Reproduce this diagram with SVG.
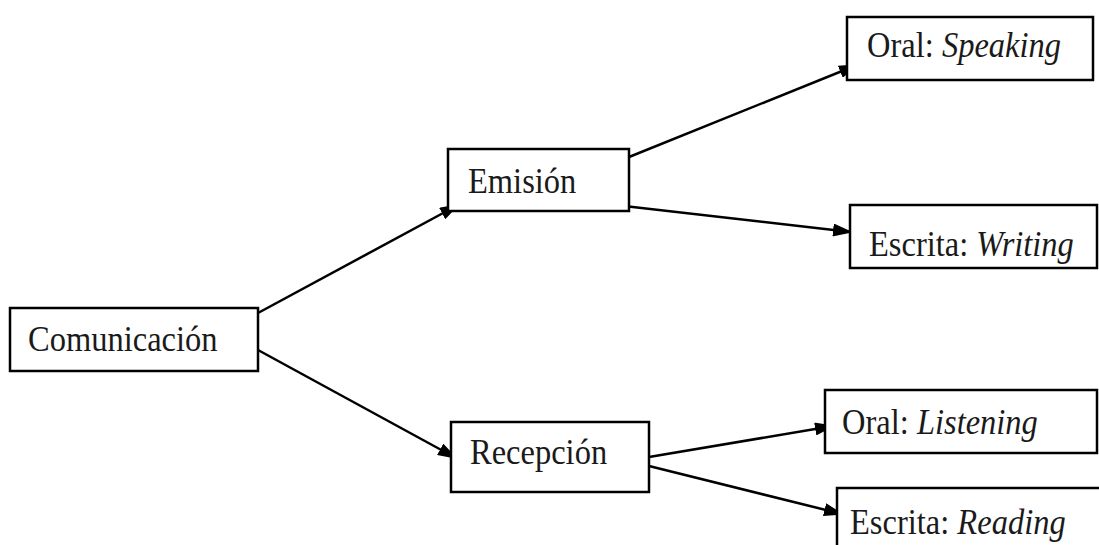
<svg xmlns="http://www.w3.org/2000/svg" width="1099" height="545" viewBox="0 0 1099 545">
<style>
.box{fill:#fff;stroke:#000;stroke-width:2.5}
.t{font-family:"Liberation Serif","Times New Roman",serif;font-size:32.5px;fill:#1a1a1a}
.i{font-style:italic}
.c{stroke:#000;stroke-width:2.5;fill:none;marker-end:url(#ah)}
</style>
<defs>
<marker id="ah" viewBox="0 0 10 10" refX="9" refY="5" markerWidth="8" markerHeight="5.2" preserveAspectRatio="none" markerUnits="strokeWidth" orient="auto">
<path d="M0,0 L10,5 L0,10 z" fill="#000"/>
</marker>
</defs>
<rect width="1099" height="545" fill="#fff"/>
<g id="connectors">
<line class="c" x1="258" y1="313" x2="458" y2="205"/>
<line class="c" x1="258" y1="350" x2="456" y2="458"/>
<line class="c" x1="629" y1="157" x2="857" y2="65"/>
<line class="c" x1="624" y1="206" x2="851" y2="232"/>
<line class="c" x1="649" y1="457" x2="833" y2="426"/>
<line class="c" x1="649" y1="466" x2="842" y2="514"/>
</g>
<g id="comunicacion">
<rect class="box" x="10" y="308" width="248" height="63"/>
<text class="t" transform="translate(28,351) scale(1,1.1)">Comunicación</text>
</g>
<g id="emision">
<rect class="box" x="448" y="149" width="181" height="62"/>
<text class="t" transform="translate(468,193) scale(1,1.1)">Emisión</text>
</g>
<g id="recepcion">
<rect class="box" x="451" y="422" width="198" height="70"/>
<text class="t" transform="translate(470,464) scale(1,1.1)">Recepción</text>
</g>
<g id="oral-speaking">
<rect class="box" x="847" y="17" width="246" height="63"/>
<text class="t" transform="translate(867,57) scale(1,1.1)">Oral: <tspan class="i">Speaking</tspan></text>
</g>
<g id="escrita-writing">
<rect class="box" x="850" y="205" width="247" height="63"/>
<text class="t" transform="translate(869,256) scale(1,1.1)">Escrita: <tspan class="i">Writing</tspan></text>
</g>
<g id="oral-listening">
<rect class="box" x="825" y="390" width="272" height="63"/>
<text class="t" transform="translate(842,434) scale(1,1.1)">Oral: <tspan class="i">Listening</tspan></text>
</g>
<g id="escrita-reading">
<rect class="box" x="837" y="488" width="270" height="70"/>
<text class="t" transform="translate(850,534) scale(1,1.1)">Escrita: <tspan class="i">Reading</tspan></text>
</g>
</svg>
